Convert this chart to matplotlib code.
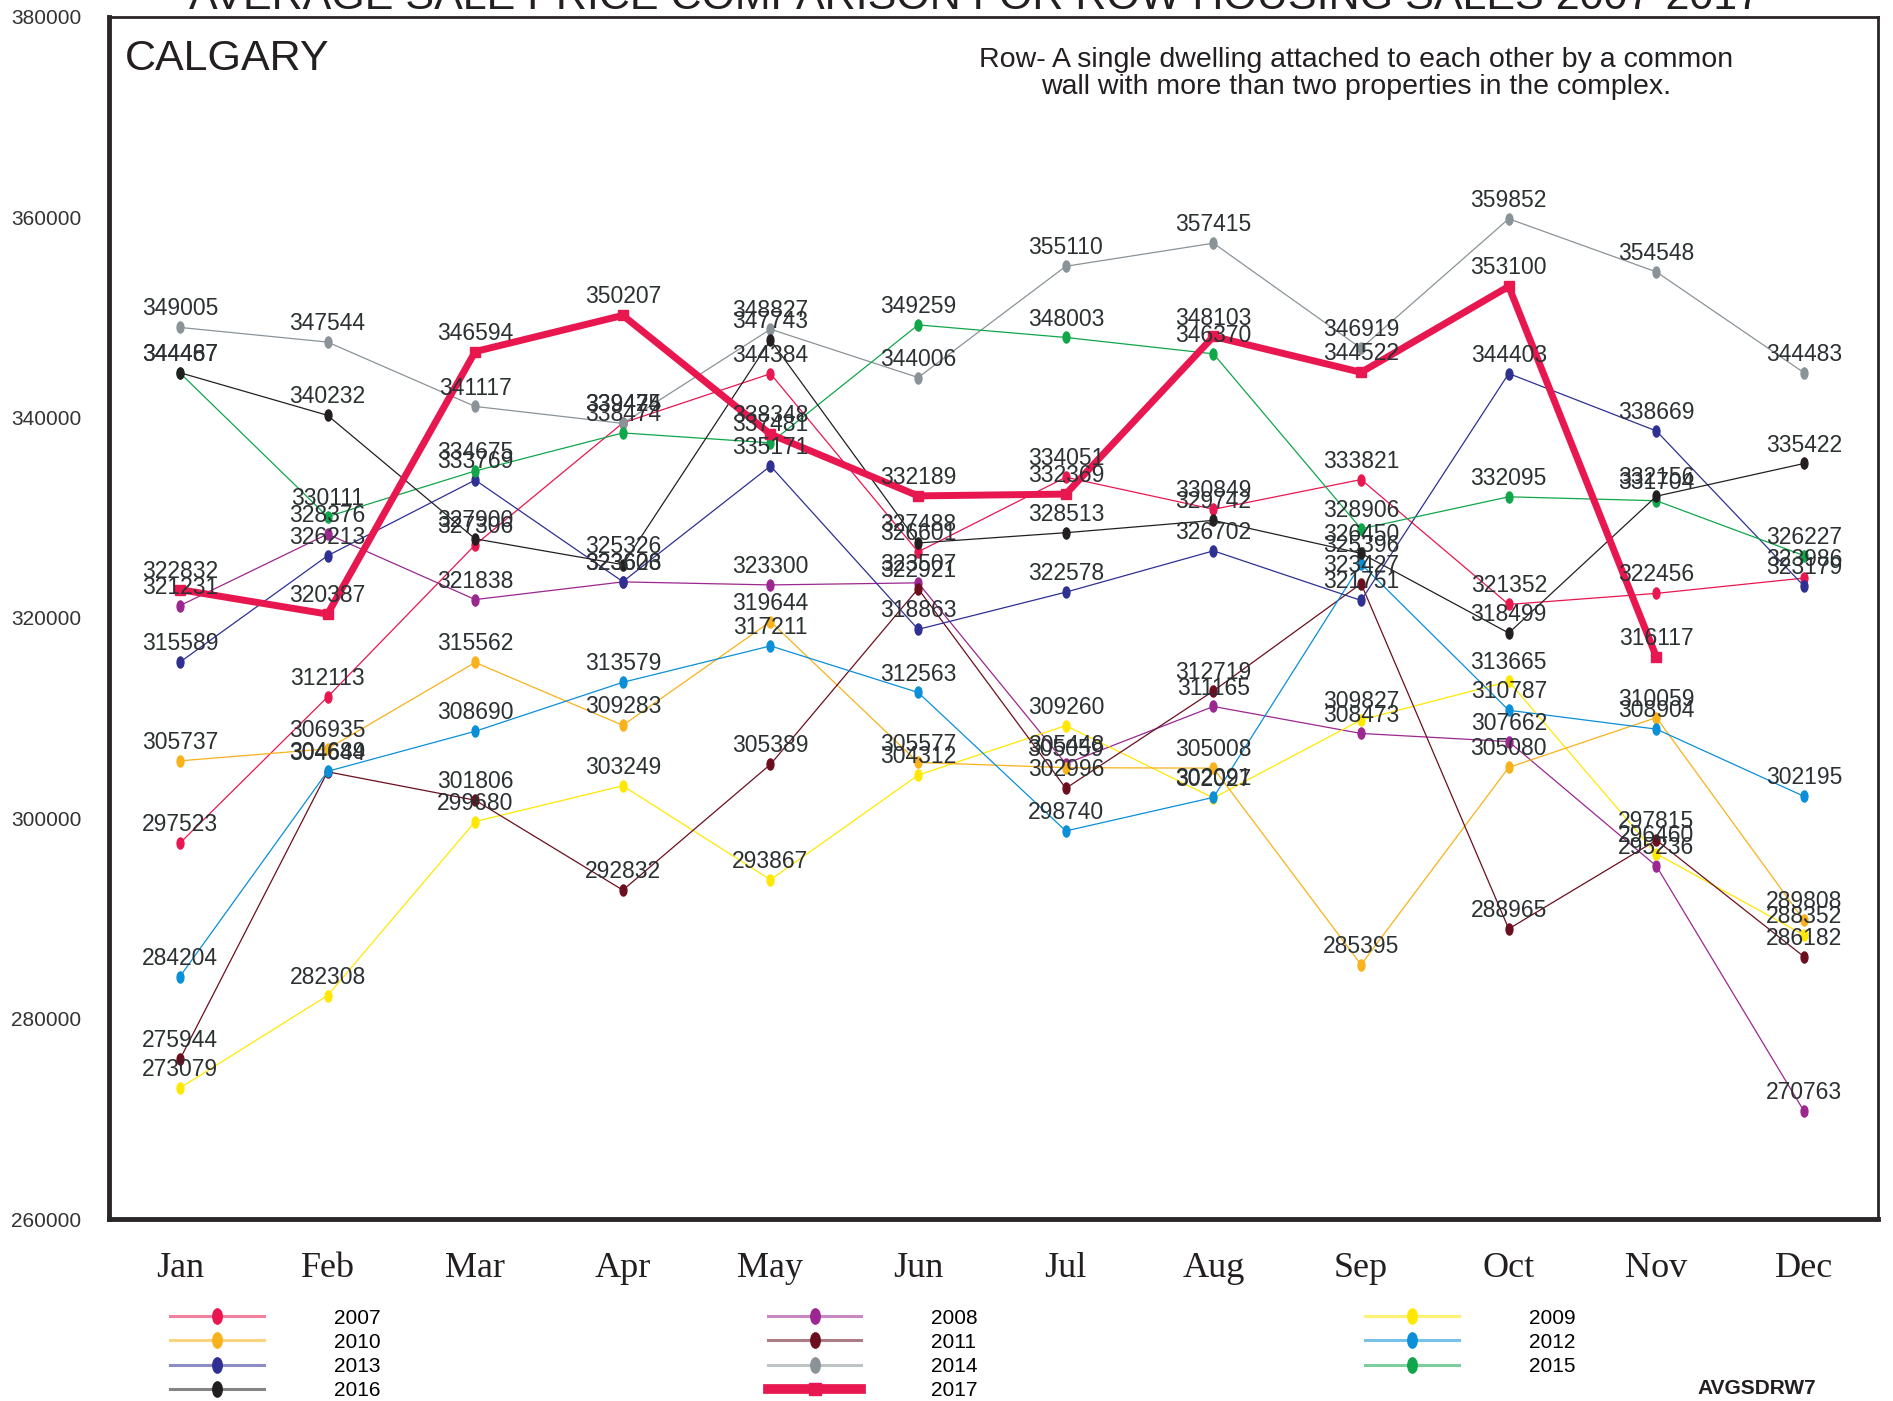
import matplotlib
matplotlib.use('Agg')
import matplotlib.pyplot as plt
from matplotlib.path import Path
from matplotlib.transforms import Affine2D
from matplotlib.lines import Line2D
from matplotlib.colors import to_rgba

# data
months = ['Jan', 'Feb', 'Mar', 'Apr', 'May', 'Jun', 'Jul', 'Aug', 'Sep', 'Oct', 'Nov', 'Dec']
years = ['2007', '2008', '2009', '2010', '2011', '2012', '2013', '2014', '2015', '2016', '2017']

p2007 = [297523, 312113, 327306, 339474, 344384, 326601, 334051, 330849, 333821, 321352, 322456, 323986]
p2008 = [321231, 328376, 321838, 323603, 323300, 323507, 305448, 311165, 308473, 307662, 295236, 270763]
p2009 = [273079, 282308, 299680, 303249, 293867, 304312, 309260, 302027, 309827, 313665, 296460, 288352]
p2010 = [305737, 306935, 315562, 309283, 319644, 305577, 305059, 305008, 285395, 305080, 310059, 289808]
p2011 = [275944, 304644, 301806, 292832, 305389, 322921, 302996, 312719, 323427, 288965, 297815, 286182]
p2012 = [284204, 304689, 308690, 313579, 317211, 312563, 298740, 302091, 325396, 310787, 308904, 302195]
p2013 = [315589, 326213, 333769, 323626, 335171, 318863, 322578, 326702, 321751, 344403, 338669, 323179]
p2014 = [349005, 347544, 341117, 339425, 348827, 344006, 355110, 357415, 346919, 359852, 354548, 344483]
p2015 = [344467, 330111, 334675, 338474, 337481, 349259, 348003, 346370, 328906, 332095, 331704, 326227]
p2016 = [344487, 340232, 327900, 325326, 347743, 327488, 328513, 329742, 326450, 318499, 332156, 335422]
p2017 = [322832, 320387, 346594, 350207, 338348, 332189, 332369, 348103, 344522, 353100, 316117]

series = [p2007, p2008, p2009, p2010, p2011, p2012, p2013, p2014, p2015, p2016, p2017]
colors = ['#E8174F', '#9B2790', '#FFE800', '#F9B21B', '#6B0F1F', '#0A8FD8',
          '#2E3092', '#8A9398', '#10A64A', '#231F20', '#E8174F']

plt.rcParams['font.family'] = ['Liberation Sans', 'DejaVu Sans']

# tall ellipse marker like the original dots
dot = Path.unit_circle().transformed(Affine2D().scale(0.62, 1.0))

fig = plt.figure(figsize=(18.93, 14.01), dpi=100)
ax = fig.add_axes([0.0576, 0.1299, 0.9344, 0.858])

x = list(range(len(months)))
label_color = '#2B3132'
for yr, vals, c in zip(years, series, colors):
    xs = x[:len(vals)]
    if yr == '2017':
        ax.plot(xs, vals, color=c, lw=5, marker='s', ms=6.5, zorder=4)
    else:
        ax.plot(xs, vals, color=c, lw=0.9, marker=dot, ms=8, zorder=3)
    for xi, v in zip(xs, vals):
        ax.annotate(str(v), (xi, v), xytext=(0, 5), textcoords='offset points',
                    ha='center', va='bottom', fontsize=16.5, color=label_color, zorder=6)

ax.set_xlim(-0.48, 11.5)
ax.set_ylim(260000, 380000)
ax.set_yticks(range(260000, 380001, 20000))
ax.set_xticks(x)
ax.set_xticklabels(months, family=['Liberation Serif', 'DejaVu Serif'], fontsize=26, color='#231F20')
for lbl in ax.get_yticklabels():
    lbl.set_fontsize(15)
    lbl.set_color('#333333')
ax.tick_params(axis='x', length=0, pad=24)
ax.tick_params(axis='y', length=0, pad=20)

for side in ['left', 'bottom']:
    ax.spines[side].set_linewidth(3.5)
    ax.spines[side].set_color('#2A2627')
for side in ['top', 'right']:
    ax.spines[side].set_linewidth(2)
    ax.spines[side].set_color('#2A2627')

# texts inside the box
ax.text(0.009, 0.965, 'CALGARY', transform=ax.transAxes, fontsize=31,
        color='#231F20', ha='left', va='center')
ax.text(0.705, 0.953, 'Row- A single dwelling attached to each other by a common\n'
        'wall with more than two properties in the complex.',
        transform=ax.transAxes, fontsize=20.5, color='#231F20', ha='center', va='center',
        linespacing=1.05)

# title, mostly cut off at the top edge like the original
fig.text(0.515, 0.9935, 'AVERAGE SALE PRICE COMPARISON FOR ROW HOUSING SALES 2007-2017',
         ha='center', va='baseline', fontsize=31, color='#231F20')

# legend, filled row by row like the reference
handles = []
for yr, c in zip(years, colors):
    if yr == '2017':
        h = Line2D([], [], color=c, lw=7, marker='s', ms=8, mfc=c, mec=c)
    else:
        h = Line2D([], [], color=to_rgba(c, 0.55), lw=2.2, marker=dot, ms=11, mfc=c, mec=c)
    handles.append(h)
order = [0, 3, 6, 9, 1, 4, 7, 10, 2, 5, 8]
fig.legend([handles[i] for i in order], [years[i] for i in order],
           loc='upper left', bbox_to_anchor=(0.0898, 0.066), ncol=3, frameon=False,
           borderpad=0, borderaxespad=0, handlelength=4.5, handletextpad=3.35,
           columnspacing=18.6, labelspacing=0.25,
           prop={'size': 15})

fig.text(0.928, 0.002, 'AVGSDRW7', ha='center', va='bottom', fontsize=15,
         fontweight='bold', color='#231F20')

fig.savefig('out.png', dpi=100)
